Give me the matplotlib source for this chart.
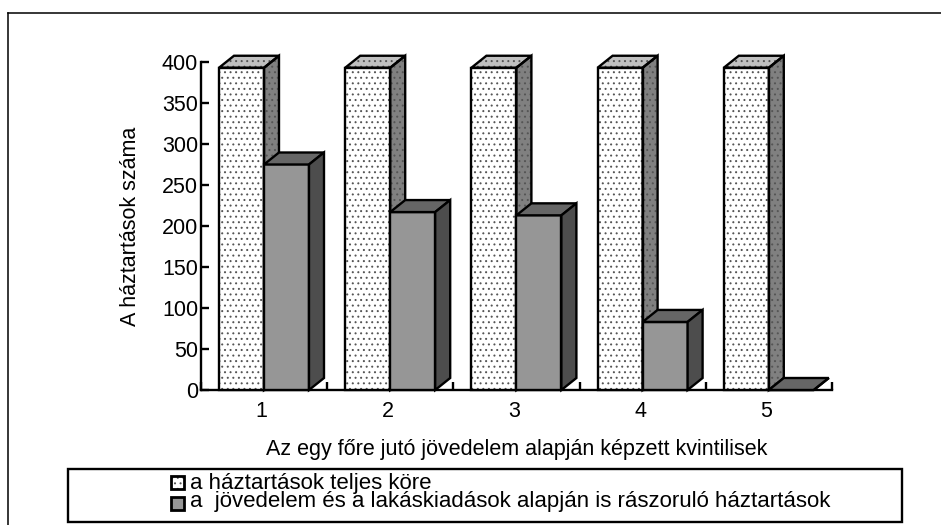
import matplotlib
matplotlib.use("Agg")
import matplotlib.pyplot as plt
from matplotlib.patches import Polygon, Rectangle

categories = ["1", "2", "3", "4", "5"]
all_households = [393, 393, 393, 393, 393]
needy_households = [275, 217, 213, 83, 0]
y_ticks = [0, 50, 100, 150, 200, 250, 300, 350, 400]
labels = ["a háztartások teljes köre",
          "a  jövedelem és a lakáskiadások alapján is rászoruló háztartások"]
xlabel = "Az egy főre jutó jövedelem alapján képzett kvintilisek"
ylabel = "A háztartások száma"

W, H = 941, 525
FS = 15.5
plt.rcParams["font.family"] = ["Liberation Sans", "DejaVu Sans"]
plt.rcParams["hatch.linewidth"] = 0.7
fig = plt.figure(figsize=(W / 100, H / 100), dpi=100, facecolor="white")


def box(x0, y0, x1, y1):
    return [x0 / W, 1 - y1 / H, (x1 - x0) / W, (y1 - y0) / H]


ax = fig.add_axes(box(201, 62, 832, 390))
ax.set_xlim(0, 5)
ax.set_ylim(0, 400)
ax.patch.set_alpha(0)
for s in ("top", "right"):
    ax.spines[s].set_visible(False)
for s in ("left", "bottom"):
    ax.spines[s].set_linewidth(1.7)
ax.set_yticks(y_ticks)
ax.tick_params(axis="y", length=5.5, width=1.7, labelsize=FS, pad=2, direction="in")
ax.set_xticks(range(6))
ax.set_xticklabels([])
ax.tick_params(axis="x", length=5.5, width=1.7, direction="in")
for i, c in enumerate(categories):
    ax.text(i + 0.48, -14, c, ha="center", va="top", fontsize=FS)

DX = 15 / 631 * 5
DY = 12 / 328 * 400
BW = 45 / 631 * 5
OFF = 18 / 631 * 5
DOTS = "..."


def bar3d(x, v, front, top, side, dotted, z):
    poly = [
        ([(x, 0), (x + BW, 0), (x + BW, v), (x, v)], front),
        ([(x, v), (x + BW, v), (x + BW + DX, v + DY), (x + DX, v + DY)], top),
        ([(x + BW, 0), (x + BW + DX, DY), (x + BW + DX, v + DY), (x + BW, v)], side),
    ]
    for pts, col in poly:
        if dotted:
            ax.add_patch(Polygon(pts, closed=True, facecolor=col, edgecolor="none",
                                 clip_on=False, zorder=z))
            ax.add_patch(Polygon(pts, closed=True, facecolor="none", edgecolor="#555555",
                                 hatch=DOTS, linewidth=0, clip_on=False, zorder=z + 0.1))
            ax.add_patch(Polygon(pts, closed=True, facecolor="none", edgecolor="black",
                                 linewidth=1.7, joinstyle="miter", clip_on=False, zorder=z + 0.2))
        else:
            ax.add_patch(Polygon(pts, closed=True, facecolor=col, edgecolor="black",
                                 linewidth=1.7, joinstyle="miter", clip_on=False, zorder=z))


for i, (a, b) in enumerate(zip(all_households, needy_households)):
    x = i + OFF
    bar3d(x, a, "white", "#c0c0c0", "#808080", True, 3 + i)
    bar3d(x + BW, b, "#969696", "#666666", "#4d4d4d", False, 3.5 + i)

fig.text(130 / W, 1 - 226 / H, ylabel, rotation=90, ha="center", va="center", fontsize=FS)
fig.text(517 / W, 1 - 450 / H, xlabel, ha="center", va="center", fontsize=FS)

# outer frame
fig.add_artist(plt.Line2D([8 / W, 8 / W], [0, 1 - 12.5 / H], color="black", lw=1.1))
fig.add_artist(plt.Line2D([8 / W, 1], [1 - 12.5 / H, 1 - 12.5 / H], color="black", lw=1.1))

# legend box
fig.add_artist(Rectangle((68 / W, 1 - 522 / H), (902 - 68) / W, (522 - 469) / H,
                         transform=fig.transFigure, facecolor="white",
                         edgecolor="black", linewidth=1.7))
fig.add_artist(Rectangle((171 / W, 1 - 489 / H), 13 / W, 13 / H, transform=fig.transFigure,
                         facecolor="white", edgecolor="#555555", linewidth=0, hatch="..."))
fig.add_artist(Rectangle((171 / W, 1 - 489 / H), 13 / W, 13 / H, transform=fig.transFigure,
                         facecolor="none", edgecolor="black", linewidth=2))
fig.add_artist(Rectangle((171 / W, 1 - 510 / H), 13 / W, 13 / H, transform=fig.transFigure,
                         facecolor="#969696", edgecolor="black", linewidth=2))
fig.text(190 / W, 1 - 483 / H, labels[0], ha="left", va="center", fontsize=16.05)
fig.text(190 / W, 1 - 502 / H, labels[1], ha="left", va="center", fontsize=16.05)

fig.savefig("out.png", dpi=100)
